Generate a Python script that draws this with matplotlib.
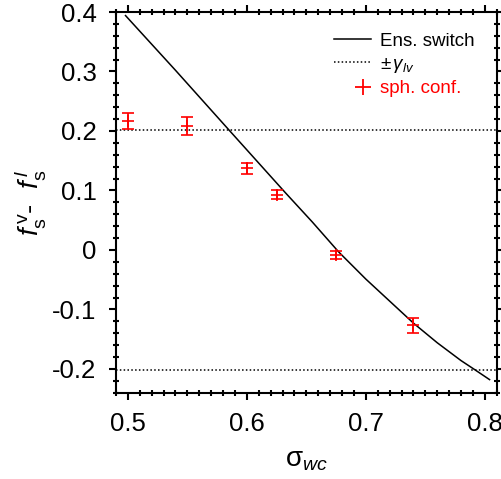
import matplotlib
matplotlib.use("Agg")
import matplotlib.pyplot as plt
from matplotlib.lines import Line2D
from matplotlib.legend_handler import HandlerLine2DCompound
from matplotlib.ticker import MultipleLocator

plt.rcParams['font.family'] = ['Liberation Sans', 'DejaVu Sans']
plt.rcParams['mathtext.fontset'] = 'custom'
plt.rcParams['mathtext.rm'] = 'Liberation Sans'
plt.rcParams['mathtext.it'] = 'Liberation Sans:italic'
plt.rcParams['mathtext.sf'] = 'Liberation Sans'

# Ensemble switching curve
curve_x = [0.498, 0.54, 0.5857, 0.632, 0.655, 0.677, 0.70, 0.72, 0.74, 0.76, 0.78, 0.7906, 0.804]
curve_y = [0.394, 0.302, 0.200, 0.097, 0.047, -0.003, -0.049, -0.086, -0.123, -0.156, -0.186, -0.200, -0.218]

# gamma_lv
gamma_lv = 0.202

# spherical configurations
sph_x = [0.50, 0.55, 0.60, 0.625, 0.675, 0.74]
sph_y = [0.217, 0.209, 0.137, 0.093, -0.008, -0.127]
sph_err = [0.0135, 0.015, 0.009, 0.007, 0.0065, 0.0125]


class RightMarkerHandler(HandlerLine2DCompound):
    def get_xdata(self, legend, xdescent, ydescent, width, height, fontsize):
        xdata, _ = super().get_xdata(legend, xdescent, ydescent, width, height, fontsize)
        return xdata, [-xdescent + width * 0.78]


fig = plt.figure(figsize=(5.01, 4.79), dpi=100)
ax = fig.add_axes([116/501, 1-392.7/479, (496.7-116)/501, (392.7-12)/479])

ax.plot(curve_x, curve_y, color='black', lw=1.1)
ax.axhline(gamma_lv, color='black', lw=1.1, ls=(0, (1, 1.5)))
ax.axhline(-gamma_lv, color='black', lw=1.1, ls=(0, (1, 1.5)))
ax.errorbar(sph_x, sph_y, yerr=sph_err, fmt='+', color='red', ms=9, mew=1.2,
            elinewidth=1.3, capsize=4.2, capthick=1.3)

ax.set_xlim(0.49, 0.81)
ax.set_ylim(-0.24, 0.4)
ax.xaxis.set_minor_locator(MultipleLocator(0.01))
ax.yaxis.set_minor_locator(MultipleLocator(0.02))
ax.set_xticks([0.5, 0.6, 0.7, 0.8])
ax.set_xticklabels(['0.5', '0.6', '0.7', '0.8'])
ax.set_yticks([-0.2, -0.1, 0, 0.1, 0.2, 0.3, 0.4])
ax.set_yticklabels(['-0.2', '-0.1', '0', '0.1', '0.2', '0.3', '0.4'])

for s in ax.spines.values():
    s.set_linewidth(1.5)
ax.tick_params(which='major', direction='out', length=5, width=1.5,
               top=True, right=True, labelsize=18.5)
ax.tick_params(axis='x', which='major', pad=9)
ax.tick_params(axis='y', which='major', pad=9)
ax.tick_params(which='minor', direction='inout', length=4, width=1.5,
               top=True, right=True)

ax.set_xlabel(r'$\mathregular{\sigma}_{wc}$', fontsize=20, labelpad=8)
ax.set_ylabel(r'$f_\mathregular{s}^{\,\mathregular{v}}$-$\ \ f_\mathregular{s}^{\,l}$', fontsize=20, labelpad=3)

plus_handle = Line2D([], [], color='red', marker='+', ls='none', ms=11, mew=1.3)
handles = [Line2D([], [], color='black', lw=1.1),
           Line2D([], [], color='black', lw=1.1, ls=(0, (1, 1.5))),
           plus_handle]
labels = ['Ens. switch', r'$\pm\,\gamma_{lv}$', 'sph. conf.']
leg = ax.legend(handles, labels, loc='upper right', frameon=False, fontsize=13.5,
                handlelength=1.95, handletextpad=0.5, labelspacing=0.3,
                borderaxespad=0.0, bbox_to_anchor=(0.962, 0.965),
                handler_map={plus_handle: RightMarkerHandler()})
leg.get_texts()[2].set_color('red')

fig.savefig('out.png', dpi=100)
